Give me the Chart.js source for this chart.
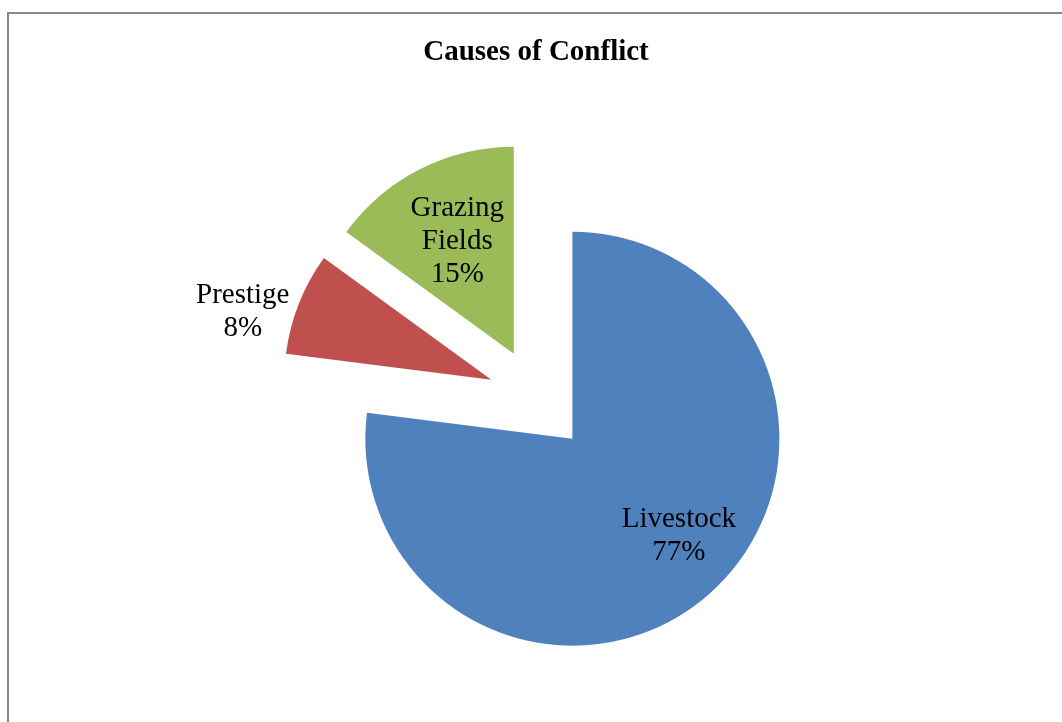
<!DOCTYPE html>
<html>
<head>
<meta charset="utf-8">
<title>Causes of Conflict</title>
<script src="https://cdn.jsdelivr.net/npm/chart.js@4.4.1/dist/chart.umd.min.js"></script>
<style>
  html, body { margin: 0; padding: 0; background: #fff; overflow: hidden; }
  .frame {
    position: absolute; left: 7px; top: 12px; width: 1200px; height: 800px;
    border-left: 2px solid #878787; border-top: 2px solid #878787;
  }
  .wrap { position: absolute; left: 0; top: 0; width: 1062px; height: 740px; }
</style>
</head>
<body>
<div class="frame"></div>
<div class="wrap"><canvas id="pie"></canvas></div>
<script>
const causes = ['Livestock', 'Prestige', 'Grazing Fields'];
const shares = [77, 8, 15];
const sliceColors = ['#4F81BD', '#C0504D', '#9BBB59'];

const serif = "'Liberation Serif', 'Times New Roman', serif";

// chart.js grows exploded arcs and trims their sweep a little;
// undo both so each slice keeps the full radius and its exact angle
const keepRadius = {
    id: 'keepRadius',
    afterDatasetUpdate(chart, args) {
        const R = args.meta.controller.outerRadius;
        args.meta.data.forEach(arc => {
            const grow = (arc.options.offset || 0) / 4 *
                (1 - Math.sin(Math.min(Math.PI, arc.circumference)));
            arc.outerRadius = R - grow;
            const trim = grow / (2 * Math.PI * R);
            arc.startAngle -= trim;
            arc.endAngle += trim;
        });
    }
};

// category name + percent written on / next to each slice
const sliceLabels = {
    id: 'sliceLabels',
    afterDatasetsDraw(chart, args, opts) {
        const ctx = chart.ctx;
        const meta = chart.getDatasetMeta(0);
        const r = meta.controller.outerRadius;
        ctx.save();
        ctx.font = opts.size + 'px ' + serif;
        ctx.fillStyle = '#000';
        ctx.textAlign = 'center';
        ctx.textBaseline = 'middle';
        meta.data.forEach((arc, i) => {
            const mid = (arc.startAngle + arc.endAngle) / 2 + opts.turn[i] * Math.PI / 180;
            const dist = opts.reach[i] * r;
            const cx = arc.x + Math.cos(mid) * dist;
            const cy = arc.y + Math.sin(mid) * dist + opts.dy;
            const lines = causes[i].split(' ').concat(shares[i] + '%');
            lines.forEach((t, k) => {
                ctx.fillText(t, cx, cy + (k - (lines.length - 1) / 2) * opts.lineHeight);
            });
        });
        ctx.restore();
    }
};

new Chart(document.getElementById('pie'), {
    type: 'pie',
    data: {
        labels: causes,
        datasets: [{
            data: shares,
            backgroundColor: sliceColors,
            borderWidth: 0,
            offset: [220, 192, 196],
            radius: 207
        }]
    },
    options: {
        responsive: true,
        maintainAspectRatio: false,
        animation: false,
        layout: { padding: { left: 10, right: 0, top: 0, bottom: 15 } },
        plugins: {
            legend: { display: false },
            tooltip: { enabled: false },
            title: {
                display: true,
                text: 'Causes of Conflict',
                color: '#000',
                font: { family: serif, size: 29, weight: 'bold', lineHeight: 1.2 },
                padding: { top: 35, bottom: 0 }
            },
            sliceLabels: {
                size: 29,
                lineHeight: 33,
                dy: 3,
                reach: [0.95, 1.48, 0.857],
                turn: [-5.2, -4.8, 0.65]
            }
        }
    },
    plugins: [keepRadius, sliceLabels]
});
</script>
</body>
</html>
